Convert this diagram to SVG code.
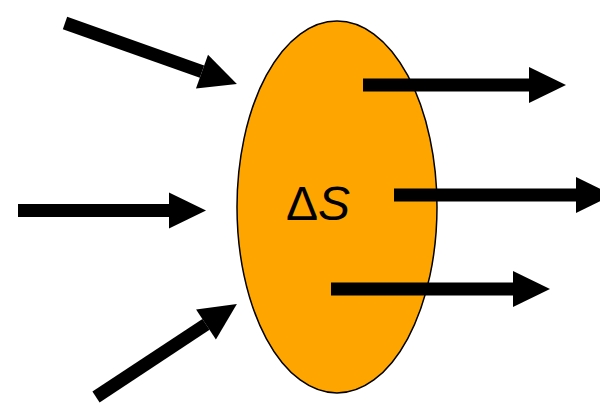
<svg xmlns="http://www.w3.org/2000/svg" width="600" height="403" viewBox="0 0 600 403">
  <style>
    .flow { stroke: #000; stroke-width: 13; fill: none; marker-end: url(#head); }
    .label { font-family: "Liberation Sans", Arial, sans-serif; font-size: 48px; fill: #000; }
  </style>
  <defs>
    <marker id="head" markerUnits="userSpaceOnUse" markerWidth="37" markerHeight="36" refX="0" refY="18" orient="auto" overflow="visible">
      <path d="M0,0 L37,18 L0,36 Z" fill="#000"/>
    </marker>
  </defs>
  <rect width="600" height="403" fill="#fff"/>
  <g id="region">
    <ellipse cx="337" cy="207" rx="100" ry="186" fill="#FFA500" stroke="#000" stroke-width="1.5"/>
    <text class="label" x="286" y="220">Δ<tspan font-style="italic">S</tspan></text>
  </g>
  <g id="connectors">
    <line class="flow" x1="65" y1="23" x2="202" y2="71.6"/>
    <line class="flow" x1="18" y1="210.5" x2="169" y2="210.5"/>
    <line class="flow" x1="96" y1="397" x2="206" y2="324.4"/>
    <line class="flow" x1="363" y1="85" x2="529" y2="85"/>
    <line class="flow" x1="394" y1="195" x2="576" y2="195"/>
    <line class="flow" x1="331" y1="289" x2="513" y2="289"/>
  </g>
</svg>
